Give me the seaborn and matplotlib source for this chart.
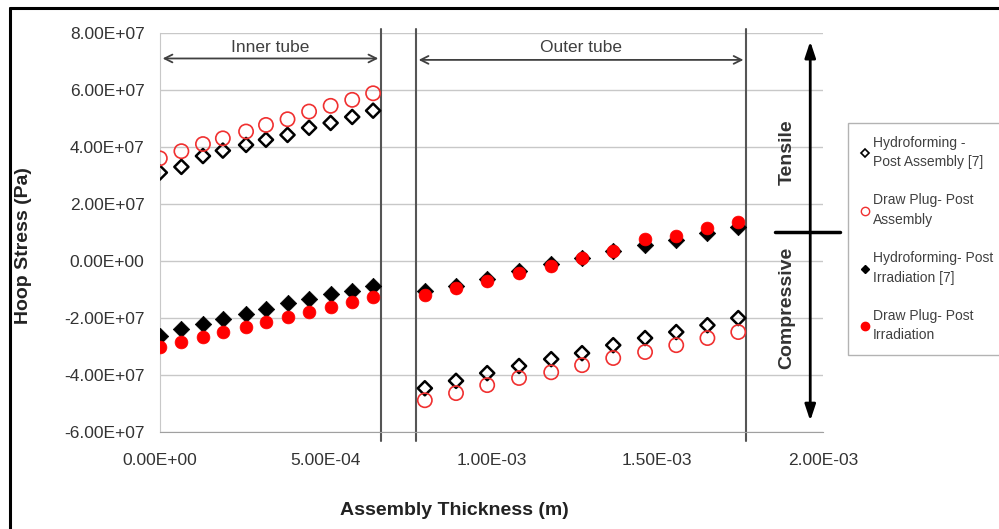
import numpy as np
import pandas as pd
import matplotlib
matplotlib.use("Agg")
import matplotlib.pyplot as plt
from matplotlib.lines import Line2D
from matplotlib.ticker import FuncFormatter
import seaborn as sns

# Thickness positions (m): inner tube then outer tube
x_inner = [0.0, 6.5e-5, 1.3e-4, 1.9e-4, 2.6e-4, 3.2e-4, 3.85e-4, 4.5e-4, 5.15e-4, 5.8e-4, 6.43e-4]
x_outer = [7.99e-4, 8.93e-4, 9.87e-4, 1.083e-3, 1.18e-3, 1.273e-3, 1.367e-3, 1.463e-3, 1.557e-3, 1.651e-3, 1.744e-3]

# Hoop stress (Pa)
hydro_assembly = [3.10e7, 3.30e7, 3.68e7, 3.87e7, 4.07e7, 4.25e7, 4.42e7, 4.67e7, 4.84e7, 5.05e7, 5.27e7,
                  -4.46e7, -4.20e7, -3.93e7, -3.68e7, -3.44e7, -3.23e7, -2.95e7, -2.70e7, -2.49e7, -2.25e7, -2.00e7]
plug_assembly = [3.60e7, 3.85e7, 4.10e7, 4.30e7, 4.54e7, 4.77e7, 4.97e7, 5.24e7, 5.44e7, 5.65e7, 5.88e7,
                 -4.88e7, -4.63e7, -4.35e7, -4.10e7, -3.90e7, -3.65e7, -3.40e7, -3.19e7, -2.95e7, -2.70e7, -2.49e7]
hydro_irradiation = [-2.62e7, -2.40e7, -2.20e7, -2.02e7, -1.85e7, -1.67e7, -1.48e7, -1.34e7, -1.15e7, -1.04e7, -8.9e6,
                     -1.05e7, -8.6e6, -6.3e6, -3.6e6, -1.2e6, 1.2e6, 3.6e6, 5.6e6, 7.4e6, 9.8e6, 1.18e7]
plug_irradiation = [-3.00e7, -2.83e7, -2.66e7, -2.48e7, -2.30e7, -2.13e7, -1.95e7, -1.78e7, -1.60e7, -1.43e7, -1.25e7,
                    -1.20e7, -9.6e6, -7.0e6, -4.2e6, -1.6e6, 1.0e6, 3.6e6, 7.6e6, 8.9e6, 1.16e7, 1.38e7]

labels = ["Hydroforming -\nPost Assembly [7]", "Draw Plug- Post\nAssembly",
          "Hydroforming- Post\nIrradiation [7]", "Draw Plug- Post\nIrradiation"]

# tube boundaries (m)
inner_end = 6.67e-4
outer_start = 7.72e-4
outer_end = 1.768e-3

x_all = x_inner + x_outer
df = pd.DataFrame({
    "x": x_all,
    "hydro_assembly": hydro_assembly,
    "plug_assembly": plug_assembly,
    "hydro_irradiation": hydro_irradiation,
    "plug_irradiation": plug_irradiation,
})

sns.set_style("white")
plt.rcParams["font.family"] = ["Liberation Sans", "DejaVu Sans"]

fig = plt.figure(figsize=(9.99, 5.29), dpi=100)
ax = fig.add_axes([0.160, 0.183, 0.664, 0.755])

red = "#ff0000"
grid_c = "#c8c8c8"
txt_c = "#404040"

sns.scatterplot(data=df, x="x", y="hydro_assembly", ax=ax, marker="D", s=52,
                facecolors="none", edgecolor="black", linewidth=1.8, zorder=3)
sns.scatterplot(data=df, x="x", y="plug_assembly", ax=ax, marker="o", s=105,
                facecolors="none", edgecolor="#f03030", linewidth=1.2, zorder=3)
sns.scatterplot(data=df, x="x", y="hydro_irradiation", ax=ax, marker="D", s=70,
                color="black", edgecolor="black", linewidth=0.5, zorder=4)
sns.scatterplot(data=df, x="x", y="plug_irradiation", ax=ax, marker="o", s=85,
                color=red, edgecolor=red, linewidth=0.5, zorder=5)

ax.set_xlim(0, 2.0e-3)
ax.set_ylim(-6e7, 8e7)
ax.set_xticks(np.arange(0, 2.01e-3, 5e-4))
ax.set_yticks(np.arange(-6e7, 8.01e7, 2e7))
fmt = FuncFormatter(lambda v, p: f"{v:.2E}")
ax.xaxis.set_major_formatter(fmt)
ax.yaxis.set_major_formatter(fmt)
ax.tick_params(axis="both", labelsize=12.5, colors=grid_c, labelcolor="#333333",
               length=5, width=1, direction="out", pad=6)
ax.tick_params(axis="x", pad=10)
ax.yaxis.grid(True, color=grid_c, linewidth=1)
ax.xaxis.grid(False)
for s in ["top", "right"]:
    ax.spines[s].set_visible(False)
ax.spines["left"].set_color(grid_c)
ax.spines["bottom"].set_color("#a0a0a0")
ax.set_xlabel("")
ax.set_ylabel("")

# tube boundaries
for xv in [inner_end, outer_start, outer_end]:
    ax.plot([xv, xv], [-6.3e7, 8.15e7], color="#555555", lw=1.5, clip_on=False, zorder=2)

# tube span arrows
ax.annotate("", xy=(0, 7.1e7), xytext=(inner_end, 7.1e7),
            arrowprops=dict(arrowstyle="<->", color=txt_c, lw=1.3, mutation_scale=14))
ax.annotate("", xy=(outer_start, 7.05e7), xytext=(outer_end, 7.05e7),
            arrowprops=dict(arrowstyle="<->", color=txt_c, lw=1.3, mutation_scale=14))
ax.text(inner_end / 2, 7.5e7, "Inner tube", ha="center", va="center", fontsize=12.5, color=txt_c)
ax.text((outer_start + outer_end) / 2, 7.5e7, "Outer tube", ha="center", va="center",
        fontsize=12.5, color=txt_c)

# tensile / compressive marker
ax.annotate("", xy=(1.961e-3, 7.7e7), xytext=(1.961e-3, -5.6e7),
            arrowprops=dict(arrowstyle="<|-|>,head_width=0.2,head_length=0.6", color="black",
                            lw=2, mutation_scale=16, shrinkA=0, shrinkB=0),
            annotation_clip=False)
ax.plot([1.855e-3, 2.05e-3], [1.02e7, 1.02e7], color="black", lw=2.5, clip_on=False)
ax.text(1.891e-3, 3.8e7, "Tensile", rotation=90, ha="center", va="center",
        fontsize=14, fontweight="bold", color="#333333")
ax.text(1.891e-3, -1.65e7, "Compressive", rotation=90, ha="center", va="center",
        fontsize=14, fontweight="bold", color="#333333")

# axis titles
fig.text(0.455, 0.035, "Assembly Thickness (m)", ha="center", va="center",
         fontsize=14, fontweight="bold", color="#222222")
fig.text(0.024, 0.535, "Hoop Stress (Pa)", ha="center", va="center", rotation=90,
         fontsize=14, fontweight="bold", color="#222222")

# legend
handles = [
    Line2D([], [], ls="", marker="D", ms=4, mfc="none", mec="black", mew=1.2),
    Line2D([], [], ls="", marker="o", ms=6, mfc="none", mec="#f03030", mew=1),
    Line2D([], [], ls="", marker="D", ms=4, mfc="black", mec="black"),
    Line2D([], [], ls="", marker="o", ms=6, mfc=red, mec=red),
]
leg = fig.legend(handles, labels, loc="upper left", bbox_to_anchor=(848 / 999, 1 - 123 / 529),
                 frameon=True, fancybox=False, edgecolor="#a0a0a0", fontsize=10,
                 handlelength=0.6, handletextpad=0.3, labelspacing=1.75,
                 borderpad=0.9, borderaxespad=0)
for t in leg.get_texts():
    t.set_color(txt_c)
    t.set_linespacing(1.5)
leg.get_frame().set_linewidth(1)

# outer frame of the picture
fig.add_artist(Line2D([10 / 999, 10 / 999], [0, 1 - 8 / 529], color="black", lw=2.2))
fig.add_artist(Line2D([10 / 999, 1], [1 - 8 / 529, 1 - 8 / 529], color="black", lw=2.2))

fig.savefig("out.png", dpi=100)
